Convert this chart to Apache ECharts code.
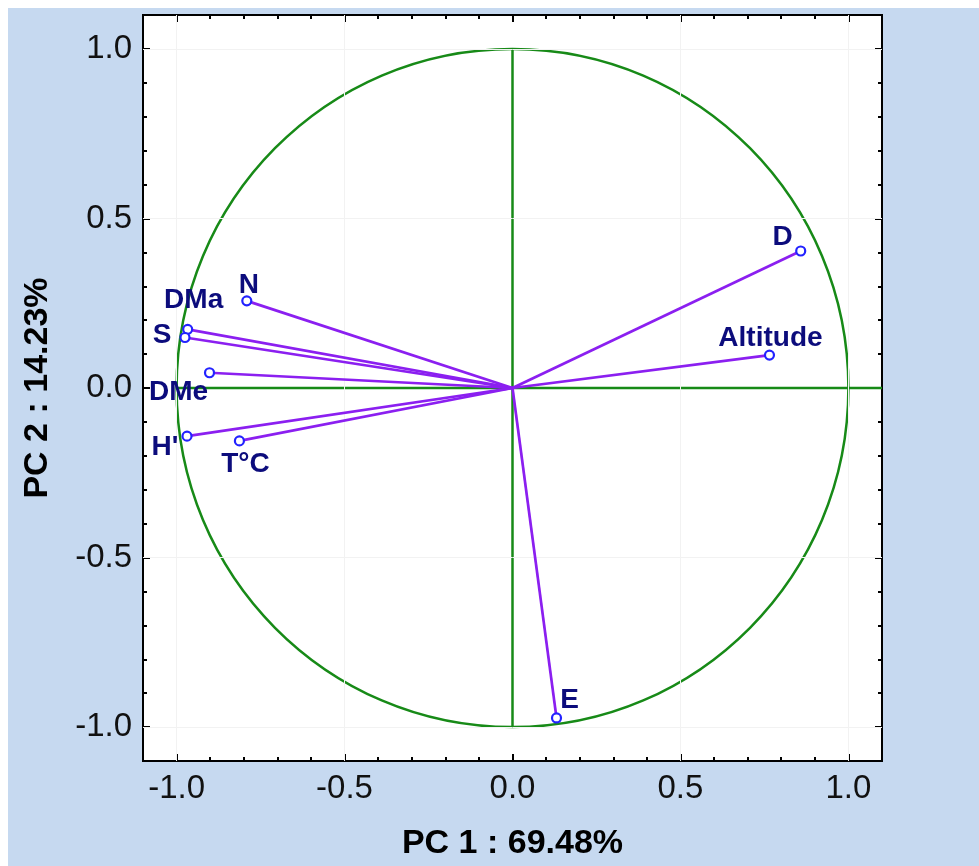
<!DOCTYPE html>
<html>
<head>
<meta charset="utf-8">
<script src="https://cdn.jsdelivr.net/npm/echarts@6/dist/echarts.min.js"></script>
<style>
html,body{margin:0;padding:0;background:#fff;}
#chart{width:979px;height:866px;}
</style>
</head>
<body>
<div id="chart"></div>
<script>
// ---- data ----
const variables = ['D', 'Altitude', 'E', 'N', 'DMa', 'S', 'DMe', "H'", 'T°C'];
const pc1 = [0.858, 0.765, 0.131, -0.791, -0.967, -0.975, -0.902, -0.969, -0.813];
const pc2 = [0.404, 0.097, -0.973, 0.257, 0.173, 0.149, 0.045, -0.142, -0.156];
const majorTicks = [-1.0, -0.5, 0.0, 0.5, 1.0];
const minorTicks = [-1.0, -0.9, -0.8, -0.7, -0.6, -0.5, -0.4, -0.3, -0.2, -0.1, 0.0,
                    0.1, 0.2, 0.3, 0.4, 0.5, 0.6, 0.7, 0.8, 0.9, 1.0];
const gridValues = [-1.0, -0.5, 0.5, 1.0];
const circleData = [[0, 0, 1]];           // centre x, centre y, radius
const hAxisLine = [[-1, 0], [1.1, 0]];
const vAxisLine = [[0, -1], [0, 1]];
const axisRange = [-1.1, 1.1];
const xTitle = 'PC 1 : 69.48%';
const yTitle = 'PC 2 : 14.23%';

// ---- style (label offsets in px) ----
const labelOffsets = [[-18, -14], [1, -17], [13, -18], [2, -16], [6, -29], [-23, -2], [-31, 20], [-22, 11], [6, 23]];

const FONT = '"Liberation Sans", Arial, Helvetica, sans-serif';
const GREEN = '#178a17';
const PURPLE = '#8b1ff0';
const BLUE = '#2222ff';
const NAVY = '#0c0c7c';

function makeAxis(pos, ticks, len, withLabels, name, nameGap) {
  const ax = {
    type: 'value',
    position: pos,
    min: axisRange[0],
    max: axisRange[1],
    axisLine: { show: false, onZero: false },
    splitLine: { show: false },
    axisTick: { show: true, inside: true, length: len, customValues: ticks,
                lineStyle: { color: '#000', width: 2 } },
    axisLabel: withLabels ? {
      show: true, customValues: majorTicks, fontSize: 33, fontFamily: FONT, color: '#111',
      margin: (pos === 'bottom' ? 11 : 11),
      formatter: v => Number(v).toFixed(1)
    } : { show: false }
  };
  if (name) {
    ax.name = name;
    ax.nameLocation = 'middle';
    ax.nameGap = nameGap;
    ax.nameTextStyle = { fontSize: 34, fontWeight: 'bold', fontFamily: FONT, color: '#000' };
  }
  return ax;
}

const pointData = variables.map((n, i) => ({
  name: n,
  value: [pc1[i], pc2[i]],
  label: { offset: labelOffsets[i] }
}));
const vectorData = variables.map((n, i) => ({ coords: [[0, 0], [pc1[i], pc2[i]]] }));

const gridMarks = [];
gridValues.forEach(v => { gridMarks.push({ xAxis: v }); gridMarks.push({ yAxis: v }); });

const option = {
  animation: false,
  backgroundColor: '#ffffff',
  graphic: [{
    type: 'rect', left: 8, top: 8, z: -10, silent: true,
    shape: { width: 980, height: 870 },
    style: { fill: '#c6d9f0' }
  }],
  grid: { left: 143, top: 15, right: 97, bottom: 104, show: true,
          backgroundColor: '#ffffff', borderColor: '#000', borderWidth: 2 },
  xAxis: [
    makeAxis('bottom', majorTicks, 7, true, xTitle, 66),
    makeAxis('bottom', minorTicks, 4, false),
    makeAxis('top', majorTicks, 7, false),
    makeAxis('top', minorTicks, 4, false)
  ],
  yAxis: [
    makeAxis('left', majorTicks, 7, true, yTitle, 88),
    makeAxis('left', minorTicks, 4, false),
    makeAxis('right', majorTicks, 7, false),
    makeAxis('right', minorTicks, 4, false)
  ],
  series: [
    {
      type: 'scatter', data: [], z: 1, silent: true,
      markLine: {
        silent: true, symbol: ['none', 'none'], label: { show: false },
        lineStyle: { color: '#f2f2f2', width: 1, type: 'solid' },
        data: gridMarks
      }
    },
    {
      type: 'line', data: hAxisLine, symbol: 'none', z: 3, silent: true,
      lineStyle: { color: GREEN, width: 2.5 }
    },
    {
      type: 'line', data: vAxisLine, symbol: 'none', z: 3, silent: true,
      lineStyle: { color: GREEN, width: 2.5 }
    },
    {
      type: 'custom', z: 3, silent: true, data: circleData,
      renderItem: function (params, api) {
        const c = api.coord([api.value(0), api.value(1)]);
        const s = api.size([api.value(2), api.value(2)]);
        return {
          type: 'ellipse',
          shape: { cx: c[0], cy: c[1], rx: s[0], ry: s[1] },
          style: { fill: 'none', stroke: GREEN, lineWidth: 2.5 }
        };
      }
    },
    {
      type: 'lines', coordinateSystem: 'cartesian2d', z: 5, silent: true,
      data: vectorData,
      lineStyle: { color: PURPLE, width: 2.7, opacity: 1, curveness: 0 }
    },
    {
      type: 'scatter', z: 10, data: pointData,
      symbol: 'circle', symbolSize: 9,
      itemStyle: { color: '#ffffff', borderColor: BLUE, borderWidth: 2.2, opacity: 1 },
      label: {
        show: true, position: 'inside', formatter: '{b}',
        fontSize: 28, fontWeight: 'bold', fontFamily: FONT, color: NAVY
      }
    }
  ]
};

const chart = echarts.init(document.getElementById('chart'), null, { renderer: 'canvas' });
chart.setOption(option);
</script>
</body>
</html>
